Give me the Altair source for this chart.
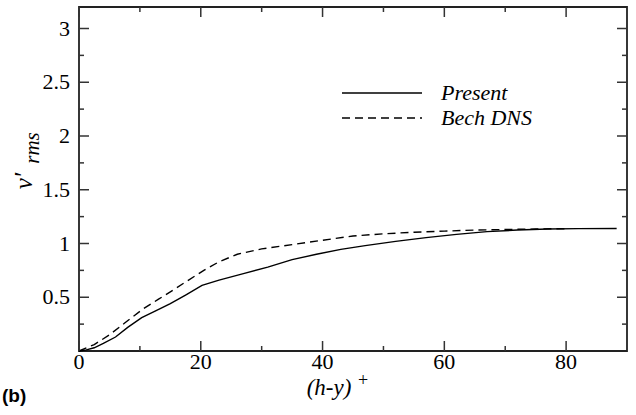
import altair as alt
import pandas as pd

# Data
present_x = [0, 1.2, 2.5, 4, 6, 8, 10.3, 12.5, 15, 17.5, 20.2, 23, 27, 31, 35, 39, 43, 47, 52, 57, 62, 67, 72, 77, 82, 88.3]
present_y = [0, 0.01, 0.03, 0.07, 0.13, 0.22, 0.31, 0.37, 0.44, 0.52, 0.61, 0.66, 0.72, 0.78, 0.85, 0.90, 0.945, 0.98, 1.02, 1.055, 1.085, 1.11, 1.125, 1.135, 1.138, 1.14]
bech_x = [0, 2.5, 5, 7.5, 10.5, 13, 15, 18, 20.5, 23, 26, 30, 35, 40, 45, 50, 55, 60, 65, 70, 75, 80]
bech_y = [0, 0.06, 0.15, 0.26, 0.39, 0.48, 0.55, 0.66, 0.75, 0.83, 0.90, 0.95, 0.99, 1.03, 1.07, 1.09, 1.105, 1.115, 1.125, 1.13, 1.135, 1.138]

x_major = [0, 20, 40, 60, 80]
x_minor = [10, 30, 50, 70]
y_major = [0.5, 1, 1.5, 2, 2.5, 3]
y_minor = [0.25, 0.75, 1.25, 1.75, 2.25, 2.75]
x_labels = ["0", "20", "40", "60", "80"]
y_labels = ["0.5", "1", "1.5", "2", "2.5", "3"]

legend_names = ["Present", "Bech DNS"]

W, H = 548, 344
xs = alt.Scale(domain=[0, 90], nice=False, zero=False)
ys = alt.Scale(domain=[0, 3.2], nice=False, zero=False)

df = pd.concat([
    pd.DataFrame({"x": present_x, "y": present_y, "s": "Present"}),
    pd.DataFrame({"x": bech_x, "y": bech_y, "s": "Bech DNS"}),
])

SERIF = "'Liberation Serif', 'Times New Roman', 'DejaVu Serif', serif"
SANS = "'Liberation Sans', Arial, sans-serif"

line_present = alt.Chart(df[df.s == "Present"]).mark_line(color="black", strokeWidth=1.4).encode(
    x=alt.X("x:Q", scale=xs, axis=None),
    y=alt.Y("y:Q", scale=ys, axis=None),
)
line_bech = alt.Chart(df[df.s == "Bech DNS"]).mark_line(color="black", strokeWidth=1.4, strokeDash=[8, 5]).encode(
    x=alt.X("x:Q", scale=xs, axis=None), y=alt.Y("y:Q", scale=ys, axis=None)
)

def xticks(vals, length, top):
    d = pd.DataFrame({"x": vals})
    if top:
        return alt.Chart(d).mark_rule(color="#333", strokeWidth=1.5).encode(
            x=alt.X("x:Q", scale=xs, axis=None), y=alt.value(0), y2=alt.value(length))
    return alt.Chart(d).mark_rule(color="#333", strokeWidth=1.5).encode(
        x=alt.X("x:Q", scale=xs, axis=None), y=alt.value(H), y2=alt.value(H - length))

def yticks(vals, length, right):
    d = pd.DataFrame({"y": vals})
    if right:
        return alt.Chart(d).mark_rule(color="#333", strokeWidth=1.5).encode(
            y=alt.Y("y:Q", scale=ys, axis=None), x=alt.value(W), x2=alt.value(W - length))
    return alt.Chart(d).mark_rule(color="#333", strokeWidth=1.5).encode(
        y=alt.Y("y:Q", scale=ys, axis=None), x=alt.value(0), x2=alt.value(length))

ticks = [xticks(x_major, 10, False), xticks(x_minor, 5, False), xticks(x_major, 10, True), xticks(x_minor, 5, True),
         yticks(y_major, 10, False), yticks(y_minor, 5, False), yticks(y_major, 10, True), yticks(y_minor, 5, True)]

# tick labels
xl = alt.Chart(pd.DataFrame({"v": x_major, "t": x_labels})).mark_text(
    font=SERIF, fontSize=22, color="black", align="center", baseline="alphabetic").encode(
    x=alt.X("v:Q", scale=xs, axis=None), y=alt.value(H + 18), text="t:N")
yl = alt.Chart(pd.DataFrame({"v": y_major, "t": y_labels})).mark_text(
    font=SERIF, fontSize=22, color="black", align="right", baseline="alphabetic", dy=7).encode(
    y=alt.Y("v:Q", scale=ys, axis=None), x=alt.value(-9), text="t:N")

leg = pd.DataFrame({"s": legend_names})
leg_solid = alt.Chart(leg[leg.s == "Present"]).mark_rule(color="black", strokeWidth=1.4).encode(
    x=alt.value(263), x2=alt.value(343), y=alt.value(86))
leg_dash = alt.Chart(leg[leg.s == "Bech DNS"]).mark_rule(color="black", strokeWidth=1.4, strokeDash=[8, 5]).encode(
    x=alt.value(263), x2=alt.value(343), y=alt.value(111))
leg_text1 = alt.Chart(leg[leg.s == "Present"]).mark_text(font=SERIF, fontSize=22, fontStyle="italic", align="left", baseline="middle").encode(
    x=alt.value(362), y=alt.value(86), text="s:N")
leg_text2 = alt.Chart(leg[leg.s == "Bech DNS"]).mark_text(font=SERIF, fontSize=22, fontStyle="italic", align="left", baseline="middle").encode(
    x=alt.value(362), y=alt.value(111), text="s:N")

# axis titles
xt = alt.Chart(pd.DataFrame({"t": ["(h-y)"]})).mark_text(font=SERIF, fontSize=23, fontStyle="italic", align="center", baseline="alphabetic").encode(
    x=alt.value(250), y=alt.value(H + 44), text="t:N")
xt_sup = alt.Chart(pd.DataFrame({"t": ["+"]})).mark_text(font=SERIF, fontSize=18, align="left", baseline="alphabetic").encode(
    x=alt.value(279), y=alt.value(H + 35), text="t:N")
yt_v = alt.Chart(pd.DataFrame({"t": ["v′"]})).mark_text(font=SERIF, fontSize=25, fontStyle="italic", angle=270, align="center", baseline="alphabetic").encode(
    x=alt.value(-47), y=alt.value(174), text="t:N")
yt_rms = alt.Chart(pd.DataFrame({"t": ["rms"]})).mark_text(font=SERIF, fontSize=21, fontStyle="italic", angle=270, align="center", baseline="alphabetic").encode(
    x=alt.value(-40), y=alt.value(141), text="t:N")
lab_b = alt.Chart(pd.DataFrame({"t": ["(b)"]})).mark_text(font=SANS, fontSize=19, fontWeight="bold", align="left", baseline="alphabetic").encode(
    x=alt.value(-77), y=alt.value(H + 51), text="t:N")

chart = alt.layer(line_present, line_bech, *ticks, xl, yl, leg_solid, leg_dash, leg_text1, leg_text2,
                  xt, xt_sup, yt_v, yt_rms, lab_b).properties(
    width=W, height=H,
    padding={"left": 79, "top": 7, "right": 9, "bottom": 64},
    autosize="none",
).configure_view(stroke="#222", strokeWidth=1.8)

chart.save("out.html", embed_options={"renderer": "svg", "actions": False})
